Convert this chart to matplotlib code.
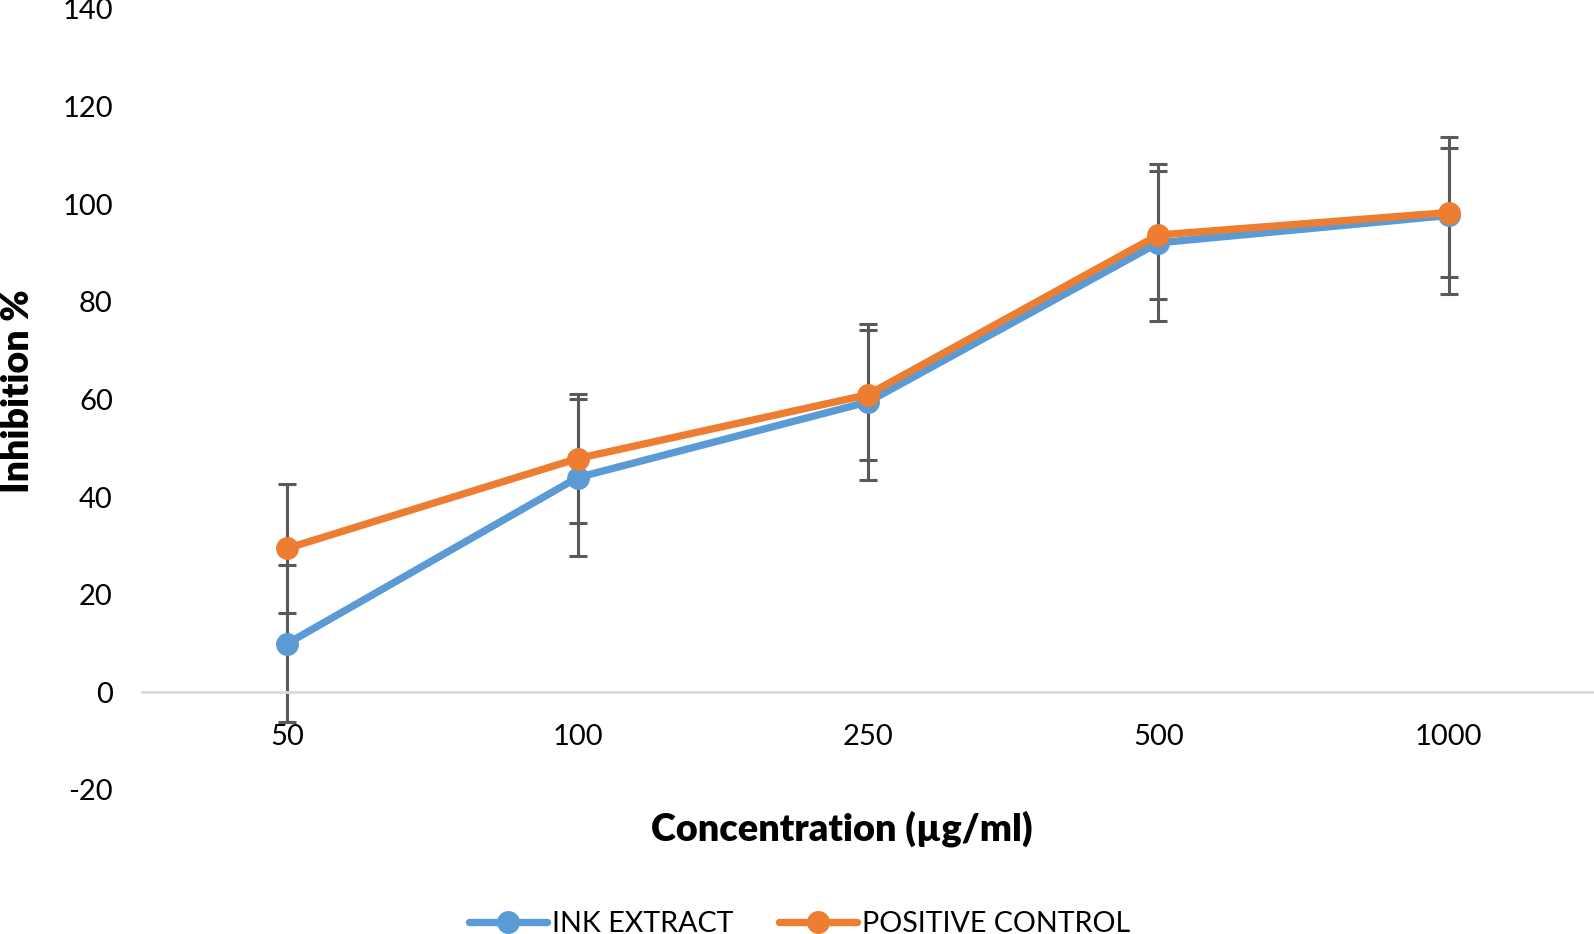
"""Inhibition % against concentration for ink extract and positive control."""

import matplotlib

matplotlib.use("Agg")
import matplotlib.pyplot as plt

concentrations = ["50", "100", "250", "500", "1000"]
ink_extract = [10.0, 44.0, 59.5, 92.1, 97.7]
ink_extract_err = [16.0, 16.1, 16.0, 16.1, 16.1]
positive_control = [29.5, 47.9, 61.0, 93.7, 98.3]
positive_control_err = [13.2, 13.3, 13.3, 13.2, 13.3]
y_ticks = [-20, 0, 20, 40, 60, 80, 100, 120, 140]

plt.rcParams["font.family"] = ["Lato", "DejaVu Sans"]
plt.rcParams["axes.unicode_minus"] = False

W, H = 1594, 934
fig = plt.figure(figsize=(W / 100, H / 100), dpi=100)
ax = fig.add_axes([142 / W, 1 - 790 / H, (W - 142) / W, (790 - 9) / H])

x = list(range(len(concentrations)))
series = [
    (ink_extract, ink_extract_err, "#5b9bd5", "INK EXTRACT"),
    (positive_control, positive_control_err, "#ed7d31", "POSITIVE CONTROL"),
]
for values, errors, color, label in series:
    ax.errorbar(
        x, values, yerr=errors, fmt="none", ecolor="#595959",
        elinewidth=2.2, capsize=6.5, capthick=2.2, zorder=2,
    )
for z, (values, errors, color, label) in enumerate(series):
    ax.plot(
        x, values, color=color, lw=5.3, marker="o", ms=15.5,
        label=label, zorder=3 + z, solid_capstyle="round",
    )

ax.set_xlim(-0.5, len(concentrations) - 0.5)
ax.set_ylim(-20, 140)
ax.set_xticks(x)
ax.set_xticklabels(concentrations)
ax.set_yticks(y_ticks)
ax.tick_params(axis="both", length=0, labelsize=21)
ax.tick_params(axis="x", pad=23)
ax.tick_params(axis="y", pad=21)
for side in ("top", "right", "left"):
    ax.spines[side].set_visible(False)
ax.spines["bottom"].set_position(("data", 0))
ax.spines["bottom"].set_color("#d9d9d9")
ax.spines["bottom"].set_linewidth(2)

fig.text(18 / W, 1 - 391 / H, "Inhibition %", rotation=90, ha="center",
         va="center", fontsize=27, fontweight="heavy")
fig.text(842 / W, 1 - 829 / H, "Concentration (µg/ml)", ha="center",
         va="center", fontsize=27.3, fontweight="heavy")

fig.legend(
    loc="center", bbox_to_anchor=(800 / W, 1 - 924 / H), ncol=2,
    frameon=False, fontsize=20.6, handlelength=2.7, columnspacing=1.6,
    handletextpad=0.2,
)

fig.savefig("out.png", dpi=100)
